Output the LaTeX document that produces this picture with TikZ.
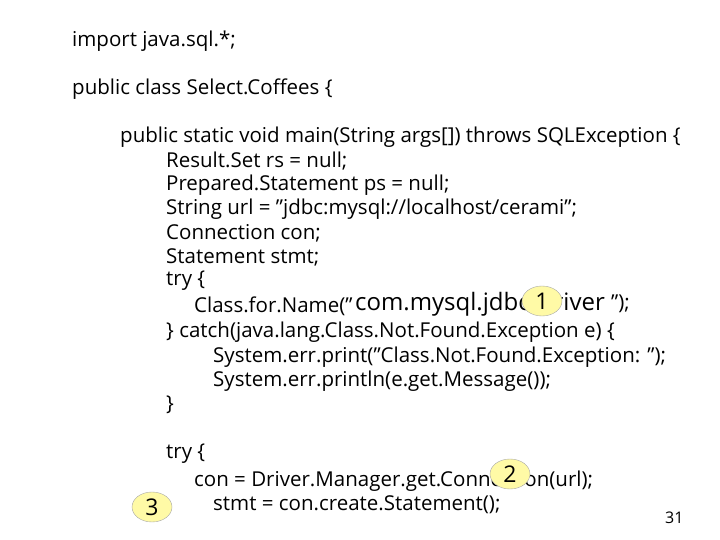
\documentclass[tikz,border=0pt]{standalone}
\usepackage{fontspec}
\setmainfont{Open Sans}
\usetikzlibrary{shapes.geometric}
\newcommand{\qq}{\char34\relax}
\begin{document}
\begin{tikzpicture}[x=1pt,y=-1pt,
  code/.style={anchor=west,inner sep=0pt,font=\fontsize{20.5}{22}\selectfont},
  big/.style={anchor=west,inner sep=0pt,font=\fontsize{24}{26}\selectfont},
  numbadge/.style={ellipse,draw=gray!70,fill=yellow!35,minimum width=40pt,minimum height=30pt,inner sep=0pt,font=\fontsize{23}{25}\selectfont}]
\useasboundingbox (0,0) rectangle (720,540);
\node[code] (l1) at (72,41) {import java.sql.*;};
\node[code] (l2) at (72,89) {public class Select.Coffees \{};
\node[code] (l3) at (120,137) {public static void main(String args[]) throws SQLException \{};
\node[code] (l4) at (166,161) {Result.Set rs = null;};
\node[code] (l5) at (166,185) {Prepared.Statement ps = null;};
\node[code] (l6) at (166,209) {String url = \qq jdbc:mysql://localhost/cerami\qq;};
\node[code] (l7) at (166,233) {Connection con;};
\node[code] (l8) at (166,257) {Statement stmt;};
\node[code] (l9) at (166,281) {try \{};
\node[code] (l10) at (194,306) {Class.for.Name(\qq};
\node[big] (l10b) at (355,304) {com.mysql.jdbc.Driver};
\node[code] (l10c) at (l10b.east) [xshift=6pt] {\qq);};
\node[code] (l11) at (166,332) {\} catch(java.lang.Class.Not.Found.Exception e) \{};
\node[code] (l12) at (213,357) {System.err.print(\qq Class.Not.Found.Exception: \qq);};
\node[code] (l13) at (213,381) {System.err.println(e.get.Message());};
\node[code] (l14) at (166,405) {\}};
\node[code] (l15) at (166,454) {try \{};
\node[code] (l16) at (194,481) {con = Driver.Manager.get.Connection(url);};
\node[code] (l17) at (213,505) {stmt = con.create.Statement();};
\node[code,font=\fontsize{16}{18}\selectfont] (pg) at (665,518) {31};
\node[numbadge] (m1) at (542,301) {1};
\node[numbadge] (m2) at (510,474) {2};
\node[numbadge] (m3) at (152,507) {3};
\end{tikzpicture}
\end{document}
